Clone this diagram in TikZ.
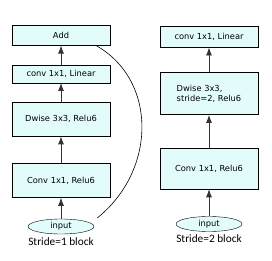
\documentclass[tikz,border=0pt]{standalone}
\usepackage{fontspec}
\setmainfont{DejaVu Sans}
\newfontfamily\capfont{Carlito}
\usepackage{tikz}
\usetikzlibrary{positioning,arrows.meta,shapes.geometric}
\definecolor{layerfill}{HTML}{E2FCFC}

\begin{document}
\begin{tikzpicture}[x=1pt, y=1pt,
  font=\fontsize{8.3}{10.5}\selectfont, >={Latex[length=8pt,width=6pt]},
  layer/.style={draw, fill=layerfill, minimum width=98pt, inner sep=2pt, align=center},
  inp/.style={draw, ellipse, fill=layerfill, minimum width=66pt, minimum height=15pt, inner sep=0pt},
  blocklabel/.style={font=\capfont\fontsize{11.3}{12}\selectfont, inner sep=0pt},
  flow/.style={->, draw=black!80, line width=0.8pt}]
  \useasboundingbox (0,0) rectangle (272,-261);
  % stride 1 block
  \node[inp] (in1) at (61,-226.5) {input};
  \node[blocklabel, below=3pt of in1] (lbl1) {Stride=1 block};
  \node[layer, minimum height=34pt, above=21pt of in1] (pw1) {Conv 1x1, Relu6};
  \node[layer, minimum height=34pt, above=27pt of pw1] (dw1) {Dwise 3x3, Relu6};
  \node[layer, minimum height=18pt, above=19pt of dw1] (lin1) {conv 1x1, Linear};
  \node[layer, minimum height=20pt, above=19pt of lin1] (add) {Add};
  % stride 2 block
  \node[inp] (in2) at (209,-224) {input};
  \node[blocklabel, below=3pt of in2] (lbl2) {Stride=2 block};
  \node[layer, minimum height=41pt, above=27pt of in2] (pw2) {Conv 1x1, Relu6};
  \node[layer, minimum height=42pt, above=33pt of pw2, align=left] (dw2) {Dwise 3x3,\\stride=2, Relu6};
  \node[layer, minimum height=21pt, above=25pt of dw2] (lin2) {conv 1x1, Linear};
  % connectors
  \draw[flow] (in1) -- (pw1);
  \draw[flow] (pw1) -- (dw1);
  \draw[flow] (dw1) -- (lin1);
  \draw[flow] (lin1) -- (add);
  \draw[flow] (in2) -- (pw2);
  \draw[flow] (pw2) -- (dw2);
  \draw[flow] (dw2) -- (lin2);
  % shortcut
  \draw[line width=0.6pt] ([xshift=3pt,yshift=8.5pt]in1.east) .. controls (157,-170) and (157,-80) .. ([xshift=-14pt]add.south east);
\end{tikzpicture}
\end{document}
